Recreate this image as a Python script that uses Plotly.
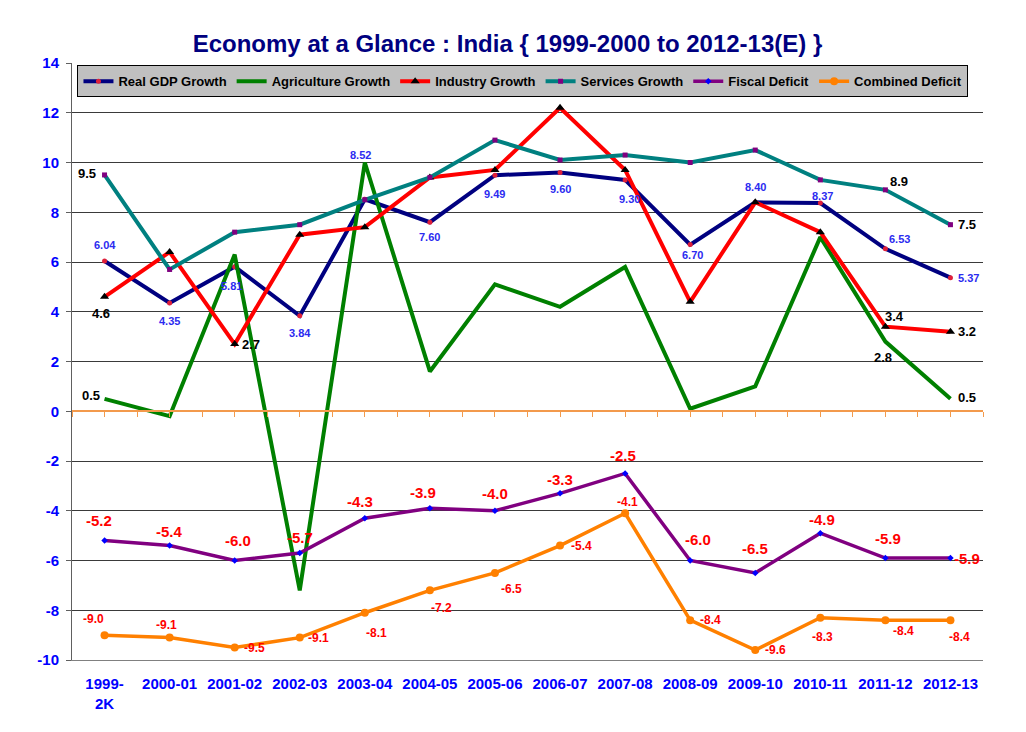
import plotly.graph_objects as go

# Categories and series values
years = ["1999-<br>2K", "2000-01", "2001-02", "2002-03", "2003-04", "2004-05", "2005-06",
         "2006-07", "2007-08", "2008-09", "2009-10", "2010-11", "2011-12", "2012-13"]

real_gdp = [6.04, 4.35, 5.81, 3.84, 8.52, 7.60, 9.49, 9.60, 9.30, 6.70, 8.40, 8.37, 6.53, 5.37]
agriculture = [0.5, -0.2, 6.3, -7.2, 10.0, 1.6, 5.1, 4.2, 5.8, 0.1, 1.0, 7.0, 2.8, 0.5]
industry = [4.6, 6.4, 2.7, 7.1, 7.4, 9.4, 9.7, 12.2, 9.7, 4.4, 8.4, 7.2, 3.4, 3.2]
services = [9.5, 5.7, 7.2, 7.5, 8.5, 9.4, 10.9, 10.1, 10.3, 10.0, 10.5, 9.3, 8.9, 7.5]
fiscal_deficit = [-5.2, -5.4, -6.0, -5.7, -4.3, -3.9, -4.0, -3.3, -2.5, -6.0, -6.5, -4.9, -5.9, -5.9]
combined_deficit = [-9.0, -9.1, -9.5, -9.1, -8.1, -7.2, -6.5, -5.4, -4.1, -8.4, -9.6, -8.3, -8.4, -8.4]

y_ticks = list(range(-10, 15, 2))

FONT = "Arial, Liberation Sans, sans-serif"

# page body adds an 8px margin, so the figure is a bit smaller than the window
W, H = 1010, 716

fig = go.Figure()

# name, values, line colour, line width, marker
series = [
    ("Real GDP Growth", real_gdp, "#000080", 4,
     dict(symbol="circle", size=5, color="#E0203A")),
    ("Agriculture Growth", agriculture, "#008000", 4, None),
    ("Industry Growth", industry, "#FF0000", 4,
     dict(symbol="triangle-up", size=8, color="#000000")),
    ("Services Growth", services, "#008080", 4,
     dict(symbol="square", size=5, color="#800080")),
    ("Fiscal Deficit", fiscal_deficit, "#800080", 3.5,
     dict(symbol="diamond", size=5, color="#0000FF")),
    ("Combined Deficit", combined_deficit, "#FF8000", 3.5,
     dict(symbol="circle", size=8, color="#FF8000")),
]

for name, vals, col, lw, mk in series:
    fig.add_trace(go.Scatter(
        x=years, y=vals, name=name,
        mode="lines+markers" if mk else "lines",
        line=dict(color=col, width=lw),
        marker=mk,
        hoverinfo="skip",
    ))

# invisible helper so the orange axis through zero gets drawn
fig.add_trace(go.Scatter(
    x=list(range(len(years))), y=[0] * len(years), xaxis="x2",
    mode="lines", line=dict(width=0), showlegend=False, hoverinfo="skip",
))

# label offsets in pixels (dx right, dy down), per index
gdp_off = [(0, -16), (0, 18), (-3, 19), (0, 17), (-4, -44), (0, 15), (0, 19),
           (0, 17), (4, 19), (2, 10), (0, -15), (2, -7), (14, -10), (18, 0)]
agri_off = {0: (-14, -3), 12: (-2, 16), 13: (17, -1)}
ind_off = {0: (-4, 17), 2: (16, 0), 12: (9, -10), 13: (17, 0)}
serv_off = {0: (-18, -1), 12: (14, -8), 13: (17, 0)}
fisc_off = [(-6, -20), (0, -14), (3, -20), (0, -16), (-5, -17), (-7, -16), (0, -17),
            (0, -14), (-2, -18), (8, -21), (0, -24), (2, -14), (3, -20), (17, 0)]
comb_off = [(-11, -16), (-3, -13), (20, 0), (19, 0), (12, 20), (12, 18), (17, 16),
            (21, 0), (2, -11), (20, 0), (20, 0), (2, 19), (18, 11), (9, 17)]

annotations = []


def add_labels(vals, offsets, fmt, color, size):
    items = offsets.items() if isinstance(offsets, dict) else enumerate(offsets)
    for i, (dx, dy) in items:
        annotations.append(dict(
            x=years[i], y=vals[i], text=fmt.format(vals[i]),
            showarrow=False, xshift=dx, yshift=-dy,
            font=dict(family=FONT, size=size, color=color, weight="bold"),
        ))


add_labels(real_gdp, gdp_off, "{:.2f}", "#2B2BF0", 11)
add_labels(agriculture, agri_off, "{:.1f}", "#000000", 13)
add_labels(industry, ind_off, "{:.1f}", "#000000", 13)
add_labels(services, serv_off, "{:.1f}", "#000000", 13)
add_labels(fiscal_deficit, fisc_off, "{:.1f}", "#FF0000", 15)
add_labels(combined_deficit, comb_off, "{:.1f}", "#FF0000", 12)

fig.update_layout(
    width=W, height=H,
    margin=dict(l=64, r=35, t=55, b=58),
    plot_bgcolor="white", paper_bgcolor="white",
    title=dict(
        text="Economy at a Glance : India { 1999-2000 to 2012-13(E) }",
        x=499.5 / W, xref="container", xanchor="center",
        y=1 - 36 / H, yref="container", yanchor="middle",
        font=dict(family=FONT, size=24, color="#000080", weight="bold"),
    ),
    legend=dict(
        orientation="h",
        x=0.006, xanchor="left", y=0.996, yanchor="top",
        bgcolor="#C0C0C0", bordercolor="#000000", borderwidth=1,
        font=dict(family=FONT, size=13, color="#000000", weight="bold"),
        itemwidth=30,
    ),
    xaxis=dict(
        type="category", range=[-0.5, len(years) - 0.5],
        showgrid=False, zeroline=False,
        showline=True, linecolor="#808080", linewidth=1,
        ticks="", ticklabelstandoff=10,
        tickfont=dict(family=FONT, size=15, color="#0000FF", weight="bold"),
    ),
    xaxis2=dict(
        overlaying="x", anchor="free", position=10 / 24, side="bottom",
        range=[-0.5, len(years) - 0.5],
        showgrid=False, zeroline=False, showticklabels=False,
        showline=True, linecolor="#F39A4C", linewidth=1.5,
        ticks="outside", tick0=-0.5, dtick=0.5, ticklen=5, tickcolor="#F39A4C",
    ),
    yaxis=dict(
        range=[-10, 14], tickvals=y_ticks, ticktext=[str(v) for v in y_ticks],
        showgrid=True, gridcolor="#3A3A3A", gridwidth=1, zeroline=False,
        showline=True, linecolor="#606060", linewidth=1,
        ticks="outside", ticklen=5, tickcolor="#606060", ticklabelstandoff=4,
        tickfont=dict(family=FONT, size=15, color="#0000FF", weight="bold"),
    ),
    annotations=annotations,
)

fig.write_html("out.html")
